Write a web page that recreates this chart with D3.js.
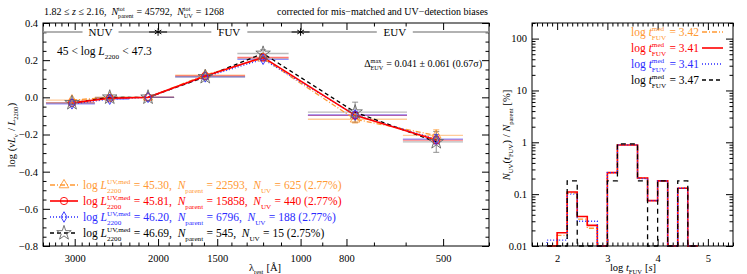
<!DOCTYPE html>
<html>
<head>
  <title>UV SED and t_FUV histogram</title>
  <style>
    body { margin: 0; background: white; }
    svg text { font-family: "Liberation Serif", "DejaVu Serif", serif; white-space: pre; }
  </style>
</head>
<body>
  <svg id="chart" width="747" height="274"></svg>

  <script src="https://d3js.org/d3.v7.min.js"></script>
  <script>
    // ---- left panel data ----
    const waves = [3040, 2530, 2100, 1590, 1200, 767, 517];
    const binLo = [3450, 2720, 2100, 1840, 1360, 965, 608];
    const binHi = [2720, 2300, 1850, 1310, 1060, 596, 454];
    const sedOrange = [-0.015, 0.0, 0.0, 0.12, 0.21, -0.118, -0.205];
    const sedRed = [-0.03, -0.005, 0.0, 0.115, 0.215, -0.097, -0.23];
    const sedBlue = [-0.035, -0.01, 0.0, 0.11, 0.205, -0.095, -0.225];
    const sedBlack = [-0.03, 0.0, 0.0, 0.11, 0.236, -0.08, -0.24];
    const errOrange = [0.005, 0.004, 0, 0.006, 0.008, 0.02, 0.03];
    const errRed = [0.004, 0.004, 0, 0.005, 0.007, 0.015, 0.02];
    const errBlue = [0.005, 0.004, 0, 0.006, 0.008, 0.02, 0.025];
    const errBlack = [0.01, 0.01, 0, 0.015, 0.02, 0.054, 0.056];
    const bandNames = ["NUV", "FUV", "EUV"];
    const bandEdges = [3500, 2000, 1000, 400];
    const xTicksL = [3000, 2000, 1500, 1000, 800, 500];
    const yTicksL = [-0.8, -0.6, -0.4, -0.2, 0.0, 0.2, 0.4];

    const legLum = ["45.30", "45.81", "46.20", "46.69"];
    const legParent = ["22593", "15858", "6796", "545"];
    const legUV = ["625 (2.77%)", "440 (2.77%)", "188 (2.77%)", "15 (2.75%)"];

    // ---- right panel data ----
    const histBins = [1.8, 2.0, 2.2, 2.4, 2.6, 2.8, 3.0, 3.2, 3.4, 3.6, 3.8, 4.0, 4.2, 4.4, 4.6];
    const histOrange = [0, 0.016, 0.105, 0.033, 0.022, 0, 0.26, 0.89, 0.89, 0.205, 0.075, 0.18, 0, 0.13, 0];
    const histRed = [0, 0.018, 0.11, 0.037, 0.025, 0, 0.26, 0.89, 0.89, 0.205, 0.075, 0.18, 0, 0.13, 0];
    const histBlue = [0.013, 0.013, 0.1, 0.03, 0.03, 0, 0.26, 0.89, 0.89, 0.2, 0.075, 0.18, 0, 0.13, 0];
    const histBlack = [0, 0, 0.18, 0, 0, 0, 0.18, 0.93, 0.93, 0.18, 0, 0.18, 0, 0.18, 0];
    const tmed = ["3.42", "3.41", "3.41", "3.47"];
    const yTicksR = [0.01, 0.1, 1, 10, 100];
    const xTicksR = [2, 3, 4, 5];

    const colors = ["#ff9933", "#ff0000", "#2a2aff", "#000000"];
    const markColors = ["#ff9933", "#ff0000", "#2a2aff", "#666666"];
    const dashes = ["5,2,1,2", null, "1,2", "4,3"];

    const svg = d3.select("#chart");

    // rich text: sequence of pieces, measured as we go
    function rich(g, x, y, parts, opt = {}) {
      const size = opt.size || 11.5;
      const grp = g.append("g").attr("fill", opt.fill || "#000");
      let cx = 0;
      parts.forEach(p => {
        if (typeof p === "string") p = { t: p };
        if (p.sub !== undefined || p.sup !== undefined) {
          let w = 0;
          if (p.sub) {
            const t = grp.append("text").attr("x", cx).attr("y", size * 0.32)
              .attr("font-size", size * 0.62).text(p.sub);
            w = Math.max(w, t.node().getComputedTextLength());
          }
          if (p.sup) {
            const t = grp.append("text").attr("x", cx).attr("y", -size * 0.42)
              .attr("font-size", size * 0.62).text(p.sup);
            w = Math.max(w, t.node().getComputedTextLength());
          }
          cx += w + 0.5;
        } else {
          const t = grp.append("text").attr("x", cx).attr("y", 0)
            .attr("font-size", size).attr("font-style", p.i ? "italic" : null).text(p.t);
          cx += t.node().getComputedTextLength();
        }
      });
      let x0 = x;
      if (opt.anchor === "end") x0 = x - cx;
      if (opt.anchor === "middle") x0 = x - cx / 2;
      if (opt.rotate) {
        grp.attr("transform", `translate(${x},${y}) rotate(${opt.rotate}) translate(${-cx / 2},0)`);
      } else {
        grp.attr("transform", `translate(${x0},${y})`);
      }
      return cx;
    }

    // ================= LEFT PANEL =================
    const L = { x0: 43, x1: 489, y0: 23, y1: 246 };
    const xL = d3.scaleLog().domain([3500, 400]).range([L.x0, L.x1]);
    const yL = d3.scaleLinear().domain([-0.8, 0.4]).range([L.y1, L.y0]);

    const minorL = d3.range(400, 1000, 100).concat(d3.range(1000, 3600, 100)).filter(d => !xTicksL.includes(d));
    const yMinorL = d3.range(-0.8, 0.41, 0.05).map(d => +d.toFixed(2)).filter(d => !yTicksL.some(t => Math.abs(t - d) < 1e-6));

    const axL = svg.append("g").attr("font-size", 10);
    axL.append("g").attr("transform", `translate(0,${L.y1})`)
      .call(d3.axisBottom(xL).tickValues(xTicksL).tickFormat(d3.format("d")).tickSize(-7).tickPadding(9));
    axL.append("g").attr("transform", `translate(0,${L.y1})`)
      .call(d3.axisBottom(xL).tickValues(minorL).tickFormat("").tickSize(-3.5));
    axL.append("g").attr("transform", `translate(0,${L.y0})`)
      .call(d3.axisTop(xL).tickValues(xTicksL).tickFormat("").tickSize(-7));
    axL.append("g").attr("transform", `translate(0,${L.y0})`)
      .call(d3.axisTop(xL).tickValues(minorL).tickFormat("").tickSize(-3.5));
    axL.append("g").attr("transform", `translate(${L.x0},0)`)
      .call(d3.axisLeft(yL).tickValues(yTicksL).tickFormat(d3.format(".1f")).tickSize(-7).tickPadding(5));
    axL.append("g").attr("transform", `translate(${L.x0},0)`)
      .call(d3.axisLeft(yL).tickValues(yMinorL).tickFormat("").tickSize(-3.5));
    axL.append("g").attr("transform", `translate(${L.x1},0)`)
      .call(d3.axisRight(yL).tickValues(yTicksL).tickFormat("").tickSize(-7));
    axL.append("g").attr("transform", `translate(${L.x1},0)`)
      .call(d3.axisRight(yL).tickValues(yMinorL).tickFormat("").tickSize(-3.5));
    axL.selectAll(".domain").remove();
    axL.selectAll("text").attr("font-family", null).attr("font-size", 10.5).attr("fill", "#000");
    svg.append("rect").attr("x", L.x0).attr("y", L.y0).attr("width", L.x1 - L.x0).attr("height", L.y1 - L.y0)
      .attr("fill", "none").attr("stroke", "#000").attr("stroke-width", 1);

    // band strip
    const bandY = 32;
    const bands = svg.append("g");
    bandNames.forEach((name, i) => {
      const a = xL(bandEdges[i]), b = xL(bandEdges[i + 1]);
      const c = (a + b) / 2;
      bands.append("line").attr("x1", a).attr("x2", c - 18).attr("y1", bandY).attr("y2", bandY)
        .attr("stroke", "#999").attr("stroke-width", 1.6);
      bands.append("line").attr("x1", c + 18).attr("x2", b).attr("y1", bandY).attr("y2", bandY)
        .attr("stroke", "#999").attr("stroke-width", 1.6);
      bands.append("text").attr("x", c).attr("y", bandY + 4).attr("text-anchor", "middle")
        .attr("font-size", 11).text(name);
    });
    [bandEdges[1], bandEdges[2]].forEach(w => {
      const x = xL(w);
      bands.append("line").attr("x1", x - 9).attr("x2", x + 9).attr("y1", bandY).attr("y2", bandY)
        .attr("stroke", "#000").attr("stroke-width", 1);
      bands.append("path").attr("d", d3.symbol(d3.symbolAsterisk, 40)())
        .attr("transform", `translate(${x},${bandY})`).attr("stroke", "#000").attr("stroke-width", 1).attr("fill", "none");
    });

    const seds = [sedOrange, sedRed, sedBlue, sedBlack];
    const errs = [errOrange, errRed, errBlue, errBlack];

    // horizontal bin bars and vertical errors
    const bars = svg.append("g");
    seds.forEach((s, k) => {
      const col = k === 3 ? "#777" : colors[k];
      s.forEach((v, i) => {
        bars.append("line").attr("x1", xL(binLo[i])).attr("x2", xL(binHi[i]))
          .attr("y1", yL(v)).attr("y2", yL(v)).attr("stroke", col).attr("stroke-opacity", 0.5).attr("stroke-width", 1.3);
        if (errs[k][i] > 0) {
          bars.append("line").attr("x1", xL(waves[i])).attr("x2", xL(waves[i]))
            .attr("y1", yL(v - errs[k][i])).attr("y2", yL(v + errs[k][i]))
            .attr("stroke", col).attr("stroke-opacity", 0.8).attr("stroke-width", 1);
          [v - errs[k][i], v + errs[k][i]].forEach(e => bars.append("line")
            .attr("x1", xL(waves[i]) - 3).attr("x2", xL(waves[i]) + 3).attr("y1", yL(e)).attr("y2", yL(e))
            .attr("stroke", col).attr("stroke-opacity", 0.8).attr("stroke-width", 1));
        }
      });
    });

    // connecting lines
    const lineL = d3.line().x((d, i) => xL(waves[i])).y(d => yL(d));
    [0, 2, 3, 1].forEach(k => {
      svg.append("path").datum(seds[k]).attr("d", lineL).attr("fill", "none")
        .attr("stroke", colors[k]).attr("stroke-width", k === 1 ? 1.6 : 1.3)
        .attr("stroke-dasharray", dashes[k]);
    });

    // markers
    const symbols = [d3.symbolTriangle, d3.symbolCircle, d3.symbolDiamond, d3.symbolStar];
    const symSizes = [40, 42, 32, 65];
    function marker(g, k, x, y) {
      g.append("path").attr("d", d3.symbol(symbols[k], symSizes[k])())
        .attr("transform", `translate(${x},${y})`).attr("fill", "none")
        .attr("stroke", markColors[k]).attr("stroke-width", 0.9);
    }
    const marks = svg.append("g");
    seds.forEach((s, k) => s.forEach((v, i) => marker(marks, k, xL(waves[i]), yL(v))));

    // annotations
    rich(svg, 57, 55, ["45 < log ", { t: "L", i: true }, { sub: "2200" }, " < 47.3"], { size: 11.5 });
    rich(svg, 482, 67, ["Δ", { sup: "max", sub: "EUV" }, " = 0.041 ± 0.061 (0.67σ)"], { size: 10, anchor: "end" });

    // legend
    const legG = svg.append("g");
    colors.forEach((c, k) => {
      const ly = 185 + k * 16;
      legG.append("line").attr("x1", 50).attr("x2", 78).attr("y1", ly).attr("y2", ly)
        .attr("stroke", c).attr("stroke-width", k === 1 ? 1.6 : 1.3).attr("stroke-dasharray", dashes[k]);
      marker(legG, k, 64, ly);
      rich(legG, 83, ly + 4, [
        "log ", { t: "L", i: true }, { sup: "UV,med", sub: "2200" }, " = " + legLum[k] + ",  ",
        { t: "N", i: true }, { sub: "parent" }, " = " + legParent[k] + ",  ",
        { t: "N", i: true }, { sub: "UV" }, " = " + legUV[k]
      ], { size: 11.5, fill: c });
    });

    // titles and axis labels
    rich(svg, 44, 15, ["1.82 ≤ ", { t: "z", i: true }, " ≤ 2.16,  ", { t: "N", i: true }, { sup: "tot", sub: "parent" },
      " = 45792,  ", { t: "N", i: true }, { sup: "tot", sub: "UV" }, " = 1268"], { size: 10 });
    rich(svg, 488, 15, ["corrected for mis−matched and UV−detection biases"], { size: 10, anchor: "end" });
    rich(svg, 265, 271, ["λ", { sub: "rest" }, " [Å]"], { size: 10.5, anchor: "middle" });
    rich(svg, 15, 135, ["log (ν", { t: "L", i: true }, { sub: "ν" }, " / ", { t: "L", i: true }, { sub: "2200" }, ")"],
      { size: 10.5, rotate: -90 });

    // ================= RIGHT PANEL =================
    const R = { x0: 532, x1: 733, y0: 23, y1: 246 };
    const xR = d3.scaleLinear().domain([1.5, 5.5]).range([R.x0, R.x1]);
    const yR = d3.scaleLog().domain([0.01, 200]).range([R.y1, R.y0]);
    const xMinorR = d3.range(1.5, 5.51, 0.1).map(d => +d.toFixed(1)).filter(d => !xTicksR.includes(d));
    const yMinorR = [];
    [0.01, 0.1, 1, 10, 100].forEach(b => d3.range(2, 10).forEach(m => { if (b * m <= 200) yMinorR.push(b * m); }));

    const axR = svg.append("g");
    axR.append("g").attr("transform", `translate(0,${R.y1})`)
      .call(d3.axisBottom(xR).tickValues(xTicksR).tickFormat(d3.format("d")).tickSize(-7).tickPadding(9));
    axR.append("g").attr("transform", `translate(0,${R.y1})`)
      .call(d3.axisBottom(xR).tickValues(xMinorR).tickFormat("").tickSize(-3.5));
    axR.append("g").attr("transform", `translate(0,${R.y0})`)
      .call(d3.axisTop(xR).tickValues(xTicksR).tickFormat("").tickSize(-7));
    axR.append("g").attr("transform", `translate(0,${R.y0})`)
      .call(d3.axisTop(xR).tickValues(xMinorR).tickFormat("").tickSize(-3.5));
    axR.append("g").attr("transform", `translate(${R.x0},0)`)
      .call(d3.axisLeft(yR).tickValues(yTicksR).tickFormat(d => String(d)).tickSize(-7).tickPadding(5));
    axR.append("g").attr("transform", `translate(${R.x0},0)`)
      .call(d3.axisLeft(yR).tickValues(yMinorR).tickFormat("").tickSize(-3.5));
    axR.append("g").attr("transform", `translate(${R.x1},0)`)
      .call(d3.axisRight(yR).tickValues(yTicksR).tickFormat("").tickSize(-7));
    axR.append("g").attr("transform", `translate(${R.x1},0)`)
      .call(d3.axisRight(yR).tickValues(yMinorR).tickFormat("").tickSize(-3.5));
    axR.selectAll(".domain").remove();
    axR.selectAll("text").attr("font-family", null).attr("font-size", 10.5).attr("fill", "#000");

    // histograms as step outlines
    const hists = [histOrange, histRed, histBlue, histBlack];
    function stepPath(h) {
      const yv = v => (v > 0 ? yR(v) : R.y1);
      const pts = [[xR(histBins[0]), R.y1]];
      h.forEach((v, i) => {
        pts.push([xR(histBins[i]), yv(v)]);
        pts.push([xR(histBins[i] + 0.2), yv(v)]);
      });
      pts.push([xR(histBins[histBins.length - 1] + 0.2), R.y1]);
      return d3.line()(pts);
    }
    [0, 1, 2, 3].forEach(k => {
      svg.append("path").attr("d", stepPath(hists[k])).attr("fill", "none")
        .attr("stroke", colors[k]).attr("stroke-width", k === 1 ? 1.6 : 1.3)
        .attr("stroke-dasharray", k === 3 ? "5,4" : dashes[k]);
    });
    svg.append("rect").attr("x", R.x0).attr("y", R.y0).attr("width", R.x1 - R.x0).attr("height", R.y1 - R.y0)
      .attr("fill", "none").attr("stroke", "#000").attr("stroke-width", 1);

    // right legend
    colors.forEach((c, k) => {
      const ly = 32 + k * 16;
      rich(svg, 699, ly + 4, ["log ", { t: "t", i: true }, { sup: "med", sub: "FUV" }, " = " + tmed[k]],
        { size: 11.5, fill: c, anchor: "end" });
      svg.append("line").attr("x1", 702).attr("x2", 723).attr("y1", ly).attr("y2", ly)
        .attr("stroke", c).attr("stroke-width", k === 1 ? 1.6 : 1.3)
        .attr("stroke-dasharray", k === 3 ? "4,3" : dashes[k]);
    });

    rich(svg, 633, 271, ["log ", { t: "t", i: true }, { sub: "FUV" }, " [", { t: "s", i: true }, "]"],
      { size: 10.5, anchor: "middle" });
    rich(svg, 510, 135, [{ t: "N", i: true }, { sub: "UV" }, "(", { t: "t", i: true }, { sub: "FUV" }, ") / ",
      { t: "N", i: true }, { sub: "parent" }, " [%]"], { size: 10.5, rotate: -90 });
  </script>
</body>
</html>
